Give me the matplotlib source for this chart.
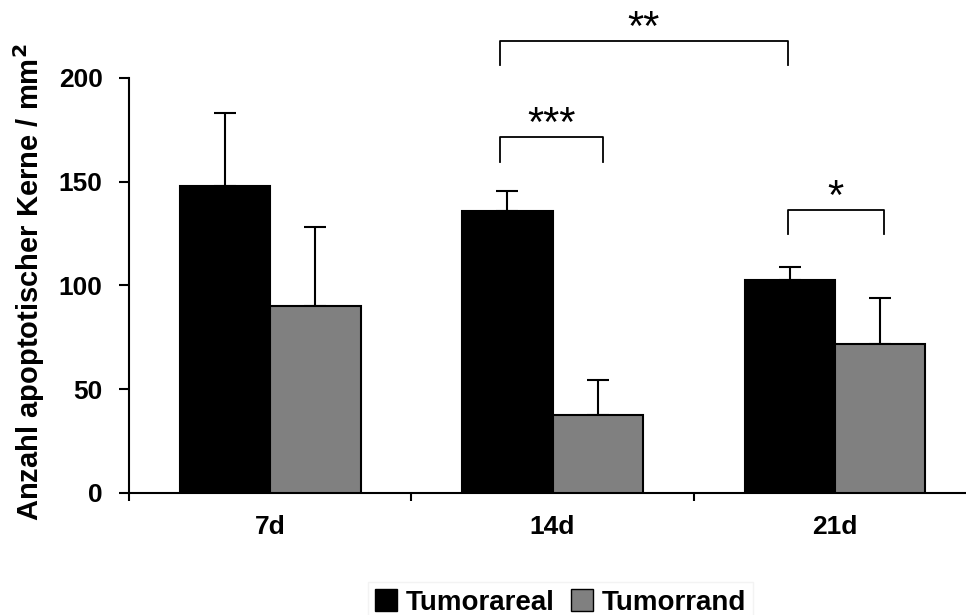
import numpy as np
import matplotlib
matplotlib.use("Agg")
import matplotlib.pyplot as plt
from matplotlib.patches import Patch

plt.rcParams['font.family'] = ['Liberation Sans', 'DejaVu Sans']

# data
days = ['7d', '14d', '21d']
areal = [148, 136, 102.5]
areal_err = [35, 9.5, 6.5]
rand = [90, 37.5, 72]
rand_err = [38, 17, 22]

# significance brackets: (x_left, x_right, y_top, leg_bottom, label)
brackets = [
    (0.813, 1.178, 171.5, 159.6, '***'),
    (0.813, 1.833, 217.7, 206.1, '**'),
    (1.833, 2.173, 136.5, 124.9, '*'),
]

fig = plt.figure(figsize=(9.66, 6.15), dpi=100)
ax = fig.add_axes([0.1335, 0.1984, 0.877, 0.6748])

x = np.arange(len(days))
w = 0.32
ax.bar(x - w / 2, areal, w, color='black', edgecolor='black', linewidth=1.5,
       label='Tumorareal', zorder=3)
ax.bar(x + w / 2, rand, w, color='#808080', edgecolor='black', linewidth=1.5,
       label='Tumorrand', zorder=3)
ax.errorbar(x - w / 2, areal, yerr=[np.zeros(3), areal_err], fmt='none',
            ecolor='black', elinewidth=1.5, capsize=8, capthick=1.5, zorder=2)
ax.errorbar(x + w / 2, rand, yerr=[np.zeros(3), rand_err], fmt='none',
            ecolor='black', elinewidth=1.5, capsize=8, capthick=1.5, zorder=2)

for x0, x1, top, leg, lab in brackets:
    ax.plot([x0, x0, x1, x1], [leg, top, top, leg], color='black',
            linewidth=1.3, clip_on=False)
    ax.text((x0 + x1) / 2, top + 0.5, lab, ha='center', va='baseline',
            fontsize=30, clip_on=False)

ax.set_xlim(-0.5, 2.5)
ax.set_ylim(0, 200)
ax.set_yticks([0, 50, 100, 150, 200])
ax.set_xticks(x)
ax.set_xticklabels(days)
ax.set_xticks([-0.5, 0.5, 1.5, 2.5], minor=True)
ax.tick_params(axis='x', which='major', length=0, pad=16, labelsize=19)
ax.tick_params(axis='x', which='minor', length=6, width=1.5, direction='out')
ax.tick_params(axis='y', length=7, width=1.5, direction='out', pad=12,
               labelsize=19)
for lbl in ax.get_xticklabels() + ax.get_yticklabels():
    lbl.set_fontweight('bold')

for s in ['top', 'right']:
    ax.spines[s].set_visible(False)
for s in ['left', 'bottom']:
    ax.spines[s].set_linewidth(1.5)

ax.set_ylabel('Anzahl apoptotischer Kerne / mm$^\\mathbf{2}$', fontsize=21,
              fontweight='bold')
ax.yaxis.set_label_coords(-0.097, 0.508)

handles = [Patch(facecolor='black', edgecolor='black'),
           Patch(facecolor='#808080', edgecolor='black')]
leg = fig.legend(handles, ['Tumorareal', 'Tumorrand'], loc='lower center',
                 bbox_to_anchor=(0.58, -0.035), ncol=2, frameon=True,
                 prop={'weight': 'bold', 'size': 20}, handlelength=0.8,
                 handleheight=0.8, handletextpad=0.3, columnspacing=0.6,
                 borderpad=0.25, fancybox=False)
leg.get_frame().set_edgecolor('#f0f0f0')
leg.get_frame().set_linewidth(1)

fig.savefig('out.png', dpi=100)
